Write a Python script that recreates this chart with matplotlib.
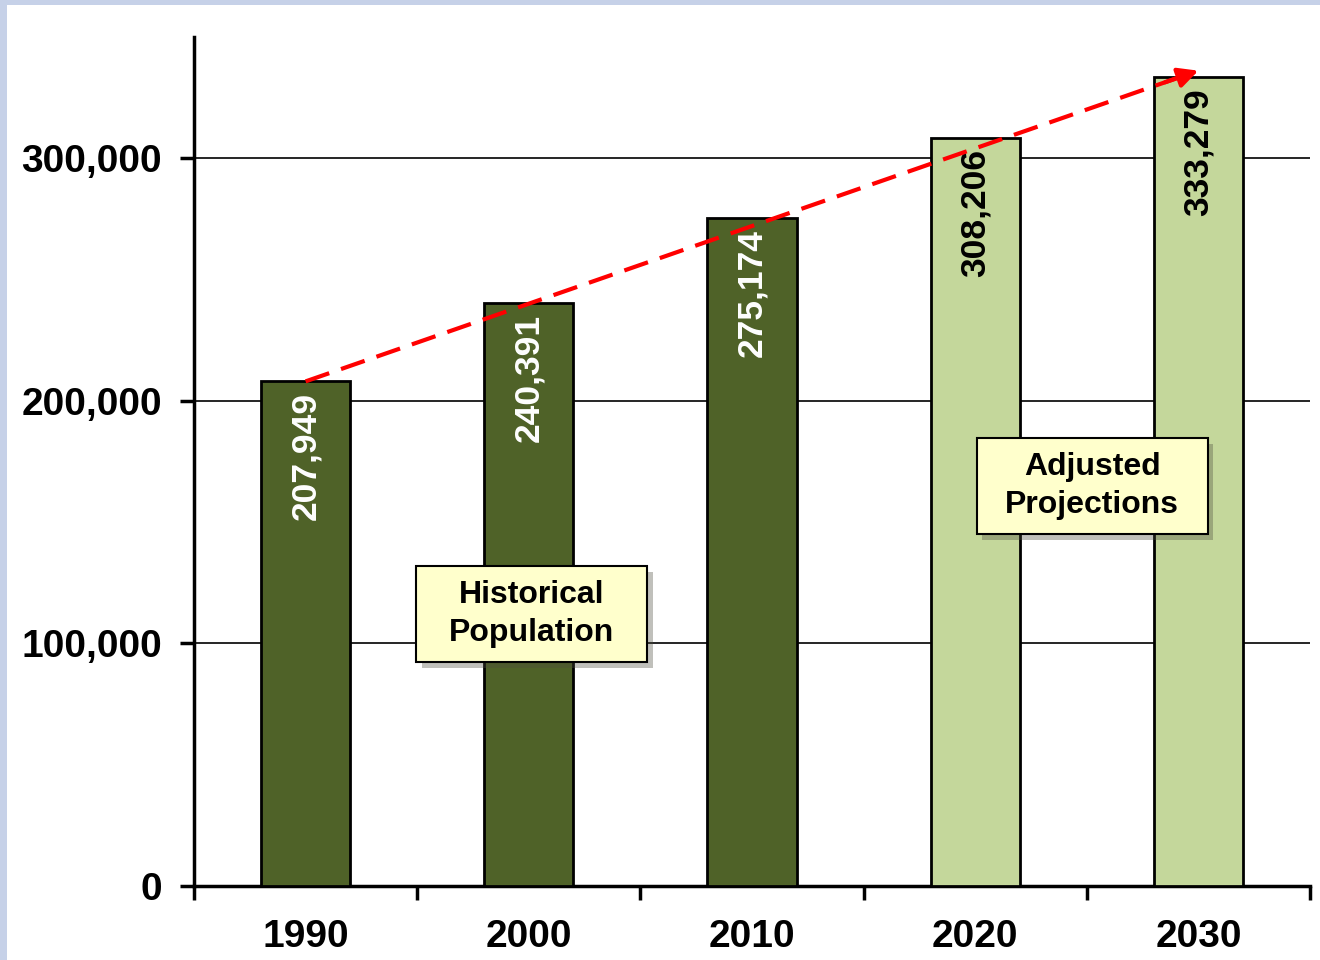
import numpy as np
import matplotlib
matplotlib.use('Agg')
import matplotlib.pyplot as plt
import matplotlib.patches as mpatches
import matplotlib.patheffects as pe
from matplotlib.ticker import FuncFormatter, FixedLocator

plt.rcParams['font.family'] = ['Liberation Sans', 'DejaVu Sans']
plt.rcParams['font.weight'] = 'bold'

years = ['1990', '2000', '2010', '2020', '2030']
population = [207949, 240391, 275174, 308206, 333279]
historical = [True, True, True, False, False]
trend_start = 207949
trend_end = 336000

dark_green = '#4f6228'
light_green = '#c4d79b'

fig = plt.figure(figsize=(13.2, 9.6), dpi=100)
fig.patch.set_facecolor('#c6d1e8')
# white inner panel, blue strip left and top
fig.add_artist(mpatches.Rectangle((7 / 1320, 0), 1, 1 - 5 / 960, transform=fig.transFigure,
                                  facecolor='white', edgecolor='none', zorder=-10))

ax = fig.add_axes([194 / 1320, 1 - 886 / 960, (1310 - 194) / 1320, (886 - 36.7) / 960])
ax.set_facecolor('none')

x = np.arange(len(years))
colors = [dark_green if h else light_green for h in historical]
ax.bar(x, population, width=0.4, color=colors, edgecolor='black', linewidth=2, zorder=3)

for xi, v, h in zip(x, population, historical):
    ax.text(xi, v - 4500, f'{v:,}', rotation=90, ha='center', va='top',
            fontsize=25.5, fontweight='bold', color='white' if h else 'black', zorder=5)

ax.set_xlim(-0.5, 4.5)
ax.set_ylim(0, 350000)
ax.set_yticks([0, 100000, 200000, 300000])
ax.yaxis.set_major_formatter(FuncFormatter(lambda v, p: f'{int(v):,}'))
ax.set_xticks(x)
ax.set_xticklabels(years)
ax.xaxis.set_minor_locator(FixedLocator(np.arange(-0.5, 5, 1)))
ax.tick_params(axis='x', which='major', length=0, pad=24, labelsize=28)
ax.tick_params(axis='x', which='minor', length=10, width=2.5, direction='out')
ax.tick_params(axis='y', length=10, width=2.5, pad=13, labelsize=28)
for lab in ax.get_xticklabels() + ax.get_yticklabels():
    lab.set_fontweight('bold')

ax.grid(axis='y', color='black', linewidth=1.2, zorder=0)
ax.set_axisbelow(True)
ax.spines['top'].set_visible(False)
ax.spines['right'].set_visible(False)
ax.spines['left'].set_linewidth(2.5)
ax.spines['bottom'].set_linewidth(2.5)

# dashed trend arrow
xs = np.array([0, 3.9])
ys = trend_start + (trend_end - trend_start) * xs / 4
ax.plot(xs, ys, color='red', linewidth=3, dashes=(6, 3), zorder=6, solid_capstyle='butt')
ax.annotate('', xy=(4, trend_end), xytext=(3.85, trend_start + (trend_end - trend_start) * 3.85 / 4),
            arrowprops=dict(arrowstyle='-|>,head_length=1.2,head_width=0.6', color='red',
                            linewidth=3, shrinkA=0, shrinkB=0), zorder=7)

# label boxes (axes fraction: centre x, centre y, width, height)
boxes = [(0.3026, 0.3203, 'Historical\nPopulation'), (0.8047, 0.4709, 'Adjusted\nProjections')]
bw, bh = 231 / 1116, 96 / 849.3
for cx, cy, s in boxes:
    r = mpatches.Rectangle((cx - bw / 2, cy - bh / 2), bw, bh, transform=ax.transAxes,
                           facecolor='#ffffcc', edgecolor='black', linewidth=1.5, zorder=8)
    r.set_path_effects([pe.SimplePatchShadow(offset=(4, -4), alpha=0.35), pe.Normal()])
    ax.add_patch(r)
    ax.text(cx, cy, s, transform=ax.transAxes, ha='center', va='center', fontsize=23,
            fontweight='bold', linespacing=1.32, zorder=9)

fig.savefig('out.png', dpi=100, facecolor=fig.get_facecolor())
